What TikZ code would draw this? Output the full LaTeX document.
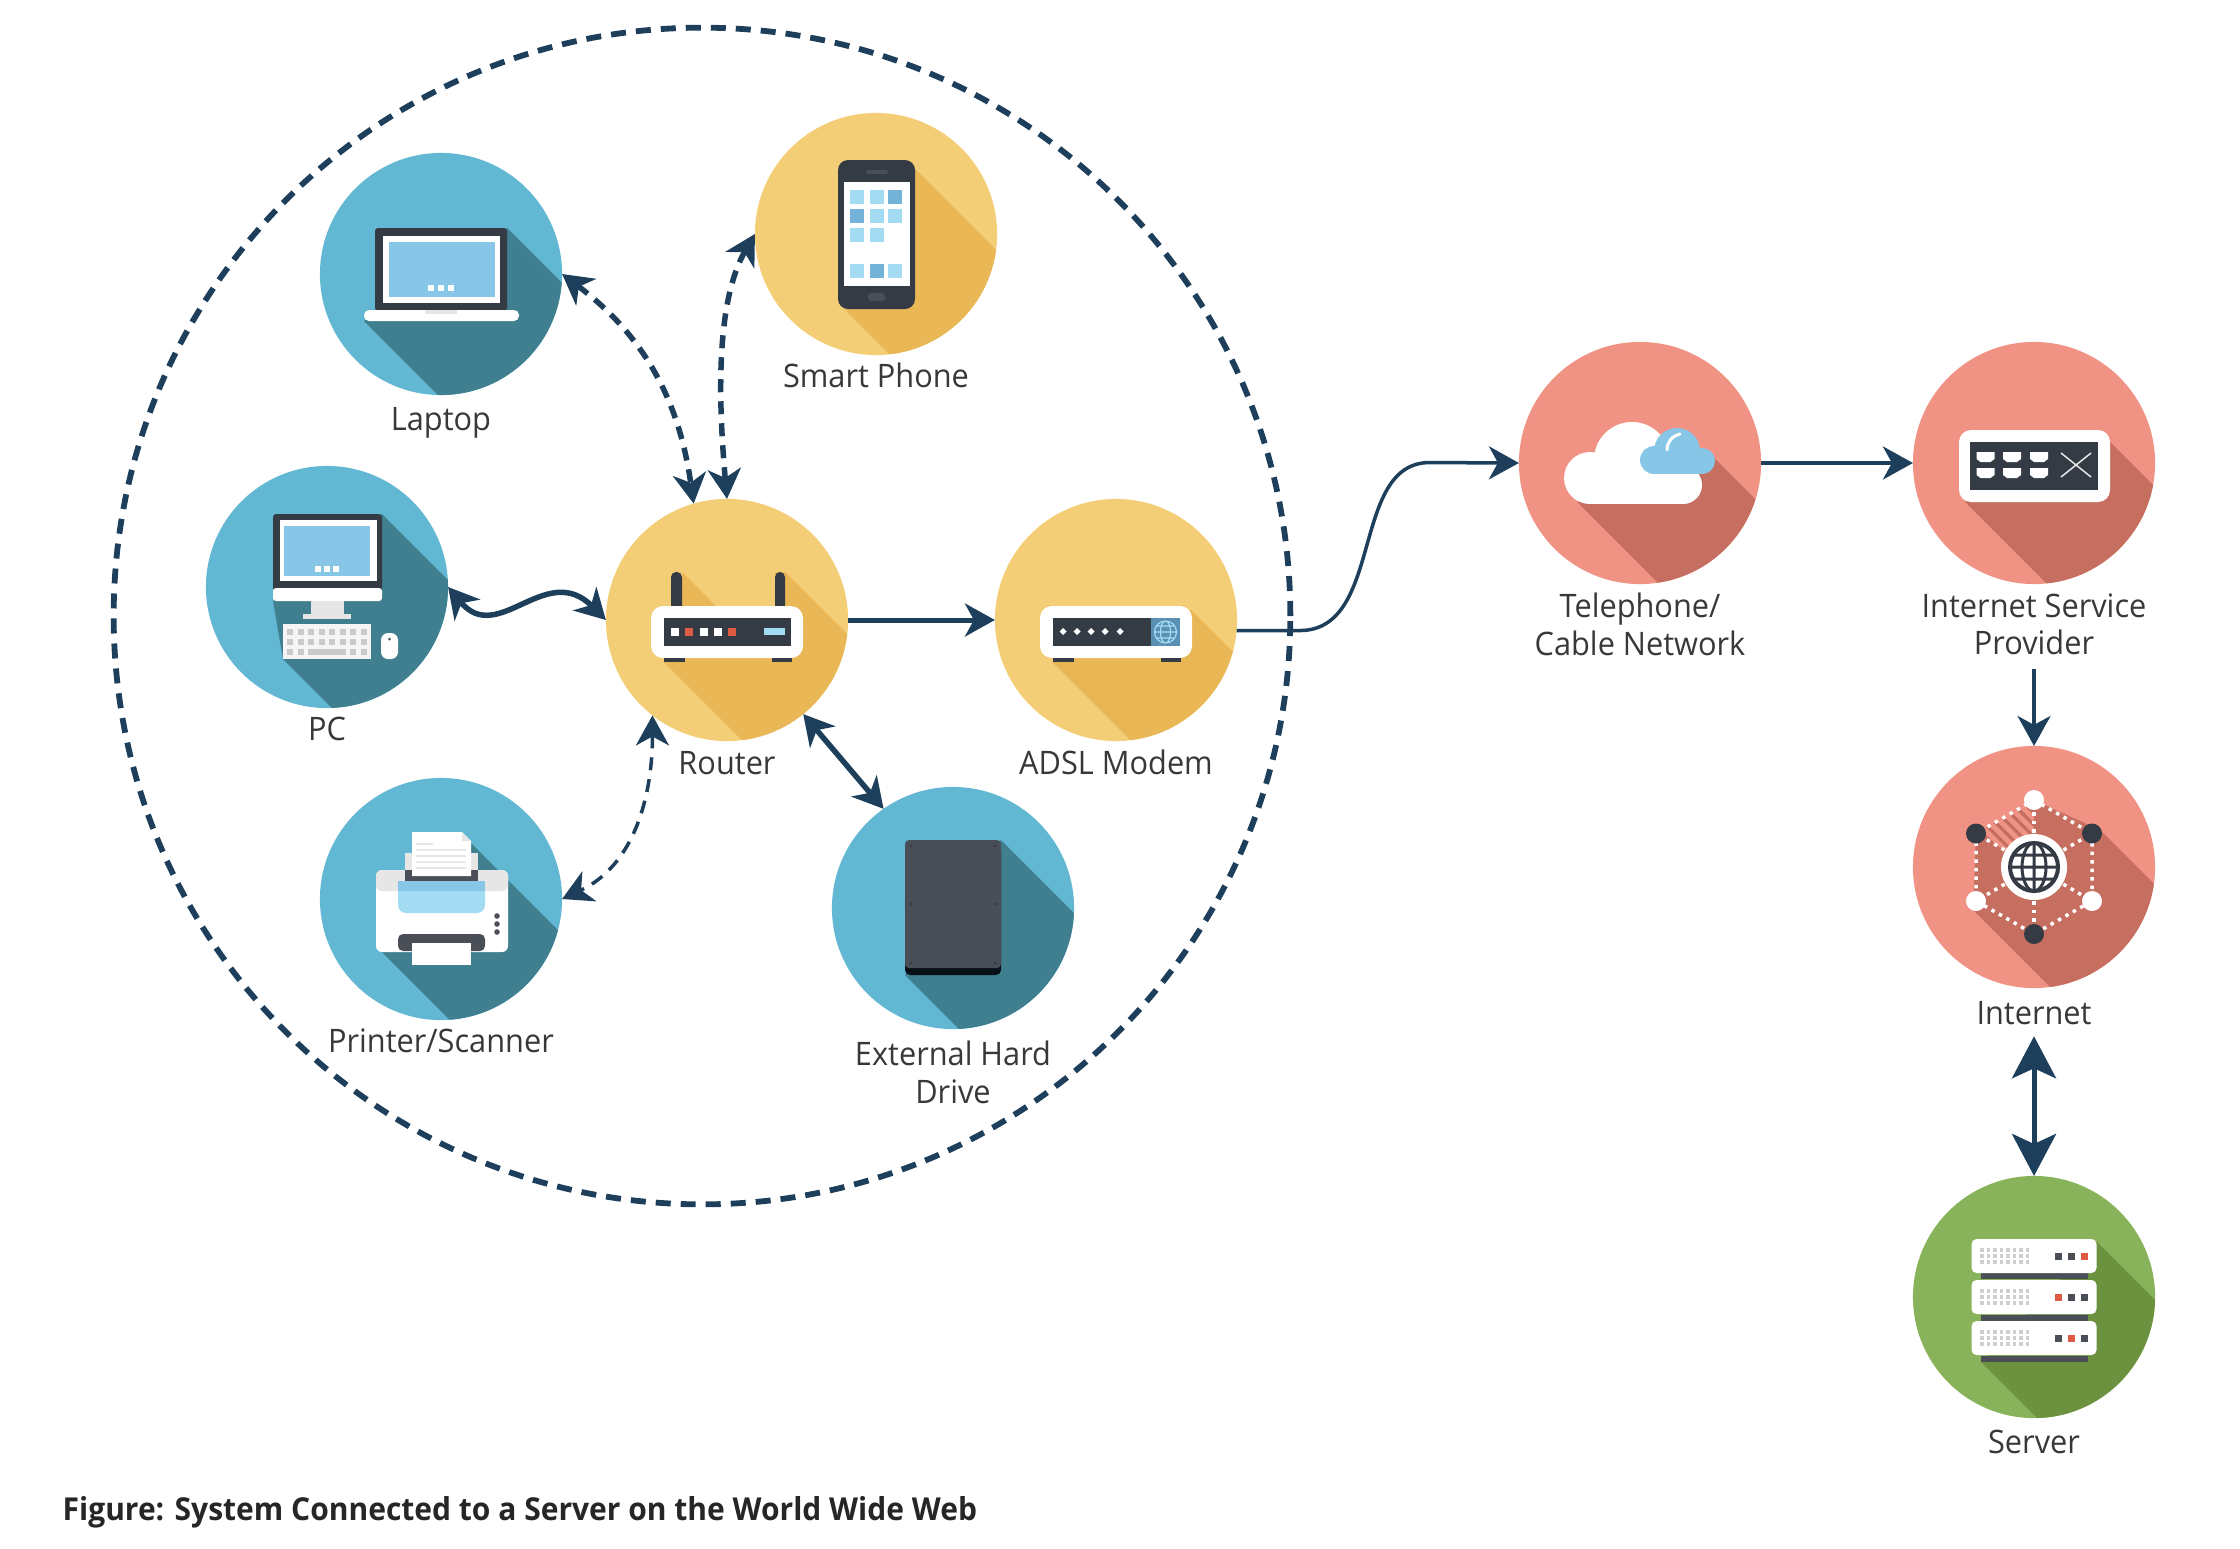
\documentclass[tikz,border=0pt]{standalone}
\usepackage{fontspec}
\setmainfont{Open Sans}[FakeStretch=0.95]
\usepackage{xcolor}
\usepackage{tikz}
\usetikzlibrary{arrows.meta,positioning,calc}
\definecolor{navy}{HTML}{1D3F5C}
\definecolor{cblue}{HTML}{62B7D2}
\definecolor{cblueS}{HTML}{3F7F8F}
\definecolor{cyel}{HTML}{F4CE76}
\definecolor{cyelS}{HTML}{E9B756}
\definecolor{csal}{HTML}{F09384}
\definecolor{csalS}{HTML}{C66F60}
\definecolor{cgrn}{HTML}{88B35A}
\definecolor{cgrnS}{HTML}{6C923F}
\definecolor{dark}{HTML}{343B44}
\definecolor{slate}{HTML}{4A4F57}
\definecolor{scrn}{HTML}{87C6E6}
\definecolor{tile}{HTML}{A3DCF2}
\definecolor{tileB}{HTML}{74B3D8}
\definecolor{pale}{HTML}{E6E6E6}
\definecolor{led}{HTML}{DD5A43}
\tikzset{
  dev/.style    = {circle, minimum size=2.42cm, inner sep=0pt, outer sep=0pt},
  bluedev/.style= {dev, fill=cblue},
  yeldev/.style = {dev, fill=cyel},
  saldev/.style = {dev, fill=csal},
  grndev/.style = {dev, fill=cgrn},
  lbl/.style    = {font=\fontsize{9.2}{10.6}\selectfont, text=black!78, align=center,
                   inner sep=0pt, execute at begin node=\strut},
  ar/.style     = {-{Stealth[length=.30cm, width=.33cm, inset=.09cm]}, navy, line width=.045cm},
  dar/.style    = {{Stealth[length=.30cm, width=.33cm, inset=.09cm]}-{Stealth[length=.30cm, width=.33cm, inset=.09cm]},
                   navy, line width=.055cm},
  dashdar/.style= {dar, dash pattern=on .13cm off .09cm},
  netdots/.style= {white, line width=.035cm, dash pattern=on .035cm off .05cm},
}
\newcommand{\devshadow}[3]{%
  \begin{scope}[shift={(#1.center)}]
    \clip (0,0) circle (121);
    \fill[#2] #3;
  \end{scope}}
\newcommand{\laptopicon}{%
  \devshadow{laptop}{cblueS}{(66,-46) -- (366,254) -- (223,347) -- (-77,47) -- cycle}
  \begin{scope}[shift={(laptop.center)}]
    \fill[dark, rounded corners=.03cm] (-66,-46) rectangle (66,37);
    \fill[white] (-58,-38) rectangle (59,29);
    \fill[scrn] (-52,-32) rectangle (54,23);
    \foreach \x in {-10,0,10} \fill[white] ({\x-3},11) rectangle ({\x+3},17);
    \fill[white, rounded corners=.05cm] (-77,36) rectangle (78,47);
    \fill[pale] (-16,36) rectangle (16,40);
  \end{scope}}
\newcommand{\pcicon}{%
  \devshadow{pc}{cblueS}{(55,-73) -- (355,227) -- (256,372) -- (-44,72) -- (-54,14) -- cycle}
  \begin{scope}[shift={(pc.center)}]
    \fill[dark, rounded corners=.03cm] (-54,-73) rectangle (55,4);
    \fill[white] (-47,-67) rectangle (50,-6);
    \fill[scrn] (-43,-61) rectangle (43,-11);
    \foreach \x in {-9,0,9} \fill[white] ({\x-3},-21) rectangle ({\x+3},-15);
    \fill[white, rounded corners=.03cm] (-54,1) rectangle (55,14);
    \fill[pale] (-16,14) rectangle (17,27);
    \fill[pale] (-24,27) rectangle (24,32);
    \fill[white!96!black] (-44,37) rectangle (44,72);
    \foreach \x in {-37,-26.5,-16,-5.5,5,15.5,26,36.5} {
      \fill[pale!88!black] ({\x-3},42) rectangle ({\x+3},48);
      \fill[pale!88!black] ({\x-3},52) rectangle ({\x+3},58);
    }
    \foreach \x in {-37,-26.5,26,36.5} \fill[pale!88!black] ({\x-3},62) rectangle ({\x+3},68);
    \fill[pale!88!black] (-19,62) rectangle (19,68);
    \fill[white, rounded corners=.07cm] (54,46) rectangle (71,72);
    \fill[slate] (62.5,52) circle (1.5);
  \end{scope}}
\newcommand{\printericon}{%
  \devshadow{printer}{cblueS}{(30,-56) -- (330,244) -- (241,353) -- (-59,53) -- cycle}
  \begin{scope}[shift={(printer.center)}]
    \fill[pale] (-36,-46) rectangle (37,-25);
    \fill[white, rounded corners=.06cm] (-65,-29) rectangle (67,53);
    \fill[pale, rounded corners=.06cm] (-65,-29) rectangle (67,-8);
    \fill[tile, rounded corners=.08cm] (-43,-18) rectangle (44,14);
    \fill[scrn] (-43,-18) rectangle (44,-8);
    \fill[slate] (-36,-29) rectangle (37,-18);
    \fill[white] (-29,-67) -- (21,-67) -- (30,-58) -- (30,-23) -- (-29,-23) -- cycle;
    \fill[pale] (21,-67) -- (30,-58) -- (21,-58) -- cycle;
    \draw[pale, line width=.015cm] (-25,-55) -- (-8,-55);
    \foreach \y in {-49,-43,-37,-31} \draw[pale, line width=.015cm] (-25,\y) -- (25,\y);
    \foreach \y in {17,25,33} \fill[slate] (56,\y) circle (2.8);
    \fill[slate, rounded corners=.05cm] (-43,52) -- (-43,35) -- (44,35) -- (44,52) -- cycle;
    \fill[white] (-29,44) rectangle (30,66);
  \end{scope}}
\newcommand{\hddicon}{%
  \devshadow{hdd}{cblueS}{(48,-68) -- (348,232) -- (252,367) -- (-48,67) -- cycle}
  \begin{scope}[shift={(hdd.center)}]
    \fill[black!75!navy, rounded corners=.05cm] (-48,-60) rectangle (48,67);
    \fill[slate, rounded corners=.04cm] (-48,-68) rectangle (48,60);
    \foreach \x in {-42,42} \foreach \y in {-62,-4,55} \fill[dark] (\x,\y) circle (1.6);
  \end{scope}}
\newcommand{\phoneicon}{%
  \devshadow{phone}{cyelS}{(39,-65) -- (339,235) -- (268,375) -- (-32,75) -- cycle}
  \begin{scope}[shift={(phone.center)}]
    \fill[dark, rounded corners=.1cm] (-38,-74) rectangle (39,75);
    \fill[white] (-32,-52) rectangle (34,52);
    \fill[slate, rounded corners=.02cm] (-10,-64) rectangle (12,-60);
    \fill[slate, rounded corners=.03cm] (-8,59) rectangle (9,67);
    \foreach \x/\y/\c in {-19/-37/tile, 1/-37/tile, 19/-37/tileB,
                          -19/-18/tileB, 1/-18/tile, 19/-18/tile,
                          -19/1/tile, 1/1/tile,
                          -19/37/tile, 1/37/tileB, 19/37/tile}
      \fill[\c] ({\x-7},{\y-7}) rectangle ({\x+7},{\y+7});
  \end{scope}}
% router and modem share the same white case
\newcommand{\boxcase}{%
  \fill[white, rounded corners=.12cm] (-76,-14) rectangle (76,38);
  \fill[dark] (-63,-2) rectangle (64,26);
  \fill[dark] (-63,38) rectangle (-42,42);
  \fill[dark] (45,38) rectangle (65,42);}
\newcommand{\routericon}{%
  \devshadow{router}{cyelS}{(58,-48) -- (358,252) -- (237,342) -- (-63,42) -- (48,-14) -- (48,-48) -- cycle}
  \devshadow{router}{cyelS}{(-45,-48) -- (-11,-14) -- (-45,-14) -- cycle}
  \begin{scope}[shift={(router.center)}]
    \fill[dark, rounded corners=.05cm] (-56,-48) rectangle (-45,-5);
    \fill[dark, rounded corners=.05cm] (48,-48) rectangle (58,-5);
    \boxcase
    \foreach \x/\c in {-52/white, -38/led, -23.5/white, -9/white, 5/led}
      \fill[\c] ({\x-4},7.5) rectangle ({\x+4},15.5);
    \fill[tile] (37,8) rectangle (58,15);
  \end{scope}}
\newcommand{\modemicon}{%
  \devshadow{modem}{cyelS}{(75,-10) -- (375,290) -- (236,342) -- (-64,42) -- cycle}
  \begin{scope}[shift={(modem.center)}]
    \boxcase
    \foreach \x in {-53,-39,-25,-11,4}
      \fill[white] ({\x-3.5},11.5) -- (\x,8) -- ({\x+3.5},11.5) -- (\x,15) -- cycle;
    \fill[tileB!70!navy] (35,-2) rectangle (64,26);
    \draw[tile, line width=.012cm] (49.5,12) circle (11) (49.5,12) ellipse (5 and 11)
       (38.5,12) -- (60.5,12) (40,6) -- (59,6) (40,18) -- (59,18);
  \end{scope}}
\newcommand{\cloudicon}{%
  \devshadow{cable}{csalS}{(72,-7) -- (372,293) -- (237,339) -- (-63,39) -- cycle}
  \begin{scope}[shift={(cable.center)}]
    \fill[white] (-50,15) circle (26);
    \fill[white] (-8,-3) circle (38);
    \fill[white] (43,22) circle (19);
    \fill[white] (-50,15) rectangle (43,41);
    \fill[scrn] (37,-12) circle (23);
    \fill[scrn] (14,-3) circle (14);
    \fill[scrn] (62,-2) circle (13);
    \fill[scrn] (14,-3) rectangle (62,11);
    \draw[white, line width=.03cm, line cap=round] (27,-13) .. controls (27,-21) and (32,-27) .. (40,-29);
  \end{scope}}
\newcommand{\ispicon}{%
  \devshadow{isp}{csalS}{(76,-21) -- (376,279) -- (231,339) -- (-69,39) -- cycle}
  \begin{scope}[shift={(isp.center)}]
    \fill[white, rounded corners=.12cm] (-75,-33) rectangle (76,39);
    \fill[dark] (-64,-21) rectangle (64,27);
    \foreach \x in {-48.5,-22,5} \foreach \y in {-6,10}
      \fill[white] ({\x-9},{\y-5}) -- ({\x+9},{\y-5}) -- ({\x+9},{\y+2}) -- ({\x+5},{\y+5})
         -- ({\x-5},{\y+5}) -- ({\x-9},{\y+2}) -- cycle;
    \draw[pale, line width=.015cm] (27,-10) -- (57,14) (27,14) -- (57,-10);
  \end{scope}}
\newcommand{\neticon}{%
  \devshadow{net}{csalS}{(0,-67) -- (66,-37) -- (366,263) -- (239,343) -- (-61,43) -- (-58,-33.5) -- (0,0) -- cycle}
  \begin{scope}[shift={(net.center)}]
    \begin{scope}
      \clip (0,-67) -- (-58,-33.5) -- (0,0) -- cycle;
      \foreach \d in {-60,-48,...,60} \draw[csalS, line width=.035cm] ({\d-60},-90) -- ({\d+60},30);
    \end{scope}
    \foreach \a/\b in {0/-67, 58/-33.5, 58/34, 0/67, -58/34, -58/-33.5}
      \draw[netdots] (0,0) -- (\a,\b);
    \draw[netdots] (0,-67) -- (58,-33.5) -- (58,34) -- (0,67) -- (-58,34) -- (-58,-33.5) -- cycle;
    \foreach \a/\b/\c in {0/-67/white, 58/-33.5/dark, 58/34/white, 0/67/dark, -58/34/white, -58/-33.5/dark}
      \fill[\c] (\a,\b) circle (10);
    \fill[white] (0,0) circle (33);
    \draw[dark, line width=.04cm] (0,0) circle (24);
    \draw[dark, line width=.03cm] (0,-24) -- (0,24) (0,0) ellipse (12 and 24)
       (-24,0) -- (24,0) (-20,-12) -- (20,-12) (-20,12) -- (20,12);
  \end{scope}}
\newcommand{\servericon}{%
  \devshadow{server}{cgrnS}{(63,-55) -- (363,245) -- (247,365) -- (-53,65) -- cycle}
  \begin{scope}[shift={(server.center)}]
    \foreach \y in {-24,18,59} \fill[slate] (-53,\y) rectangle (54,{\y+6});
    \foreach \y/\ca/\cb/\cc in {-41/slate/slate/led, 0/led/slate/slate, 41/slate/led/slate} {
      \fill[white, rounded corners=.05cm] (-62.5,{\y-17}) rectangle (62.5,{\y+17});
      \foreach \x in {-52,-45.5,...,-6} \foreach \r in {-6,0,6}
        \fill[pale!90!black] ({\x-1.8},{\y+\r-1.8}) rectangle ({\x+1.8},{\y+\r+1.8});
      \fill[\ca] (21,{\y-3.5}) rectangle (28,{\y+3.5});
      \fill[\cb] (33.5,{\y-3.5}) rectangle (40.5,{\y+3.5});
      \fill[\cc] (46.5,{\y-3.5}) rectangle (53.5,{\y+3.5});
    }
  \end{scope}}

\begin{document}
\begin{tikzpicture}[x=0.01cm, y=-0.01cm]
  \useasboundingbox (0,0) rectangle (2240,1548);
  % home network
  \node[circle, draw=navy, line width=.058cm, dash pattern=on .15cm off .10cm,
        minimum size=11.76cm, inner sep=0pt] (home) at (702,616) {};
  \node[bluedev] (laptop)  at (441,274) {};
  \node[yeldev]  (phone)   at (876,234) {};
  \node[bluedev] (pc)      at (327,587) {};
  \node[yeldev]  (router)  at (727,620) {};
  \node[yeldev]  (modem)   at (1116,620) {};
  \node[bluedev] (printer) at (441,899) {};
  \node[bluedev] (hdd)     at (953,908) {};
  % outside world
  \node[saldev]  (cable)   at (1640,463) {};
  \node[saldev]  (isp)     at (2034,463) {};
  \node[saldev]  (net)     at (2034,867) {};
  \node[grndev]  (server)  at (2034,1297) {};
  \laptopicon \phoneicon \pcicon \routericon \modemicon \printericon \hddicon
  \cloudicon \ispicon \neticon \servericon
  \node[lbl, below=.085cm of laptop]  (laptoplbl)  {Laptop};
  \node[lbl, below=.055cm of phone]   (phonelbl)   {Smart Phone};
  \node[lbl, below=.055cm of pc]      (pclbl)      {PC};
  \node[lbl, below=.07cm of router]   (routerlbl)  {Router};
  \node[lbl, below=.07cm of modem]    (modemlbl)   {ADSL Modem};
  \node[lbl, below=.055cm of printer] (printerlbl) {Printer/Scanner};
  \node[lbl, below=.115cm of hdd]     (hddlbl)     {External Hard\\\strut Drive};
  \node[lbl, below=.085cm of cable]   (cablelbl)   {Telephone/\\\strut Cable Network};
  \node[lbl, below=.085cm of isp]     (isplbl)     {Internet Service\\\strut Provider};
  \node[lbl, below=.095cm of net]     (netlbl)     {Internet};
  \node[lbl, below=.085cm of server]  (serverlbl)  {Server};
  \node[anchor=west, inner sep=0pt, font=\fontsize{8.98}{11}\selectfont\bfseries, text=black!85]
     (caption) at (62,1512) {Figure: System Connected to a Server on the World Wide Web};
  % connectors
  \draw[dashdar] (laptop.east) to[out=-37, in=98] (router.106);
  \draw[dashdar] (phone.west) to[out=240, in=95, looseness=.8] (router.90);
  \draw[dar] (pc.east) .. controls +(50,60) and +(-60,-60) .. (router.west);
  \draw[dashdar, line width=.035cm] (router.232) to[out=270, in=25] (printer.east);
  \draw[dar] (router.-51) -- (hdd.125);
  \draw[ar, line width=.05cm] (router.east) -- (modem.west);
  \draw[ar, line width=.035cm] (modem.-5) -- ++(63,0) .. controls +(85,0) and +(-80,0) .. ++(130,-168) -- (cable.west);
  \draw[ar, line width=.04cm] (cable.east) -- (isp.west);
  \draw[ar, line width=.035cm, shorten <=.03cm] (isplbl.south) -- (net.north);
  \draw[navy, line width=.05cm, {Stealth[length=.42cm, width=.44cm, inset=.1cm]}-{Stealth[length=.42cm, width=.44cm, inset=.1cm]}]
     (netlbl.south) -- (server.north);
\end{tikzpicture}
\end{document}
